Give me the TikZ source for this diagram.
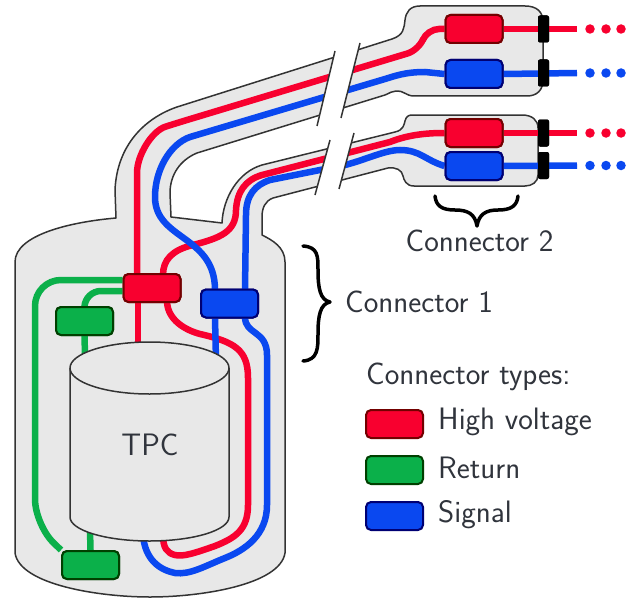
\documentclass[tikz,border=0pt]{standalone}
\usetikzlibrary{calc}
\definecolor{cred}{HTML}{F8002F}
\definecolor{cgreen}{HTML}{0BB04A}
\definecolor{cblue}{HTML}{0A48F0}
\definecolor{cfill}{HTML}{E8E8E8}
\definecolor{cline}{HTML}{333333}
\definecolor{ctext}{HTML}{30343C}
\tikzset{
  shell/.style={draw=cline,line width=1.5pt,fill=cfill,line join=round},
  edge/.style={draw=cline,line width=1.5pt},
  wire/.style={line width=6.5pt,line cap=butt,rounded corners=#1},
  wire/.default=14pt,
  rw/.style={wire=#1,draw=cred},
  rw/.default=14pt,
  bw/.style={wire=#1,draw=cblue},
  bw/.default=14pt,
  gw/.style={wire=#1,draw=cgreen},
  gw/.default=14pt,
  box/.style={rounded corners=5pt,line width=2pt,minimum width=57pt,minimum height=28pt,inner sep=0pt},
  redbox/.style={box,fill=cred,draw=red!45!black},
  bluebox/.style={box,fill=cblue,draw=blue!45!black},
  greenbox/.style={box,fill=cgreen,draw=green!25!black},
  plug/.style={fill=black,rounded corners=2pt,minimum width=11pt,minimum height=27pt,inner sep=0pt},
  dotr/.style={circle,fill=cred,minimum size=9.5pt,inner sep=0pt},
  dotb/.style={circle,fill=cblue,minimum size=9.5pt,inner sep=0pt},
  lbl/.style={font=\fontsize{31}{36}\selectfont\sffamily,text=ctext,inner sep=0pt},
  lblw/.style={lbl,anchor=west},
  curly/.style={draw=black,line width=3.5pt,line cap=round,line join=round},
}
\begin{document}
\begin{tikzpicture}[x=1pt,y=-1pt]
\useasboundingbox (0,0) rectangle (636,599);

% vessel and tubes
\path[shell] (15,553) -- (15,262)
  .. controls (15,235) and (70,222) .. (116,218)
  -- (115,190)
  .. controls (117,145) and (145,118) .. (177,107)
  -- (392,39)
  .. controls (404,35) and (404,28) .. (405,20)
  .. controls (406,12) and (410,6) .. (420,6)
  -- (525,6)
  .. controls (537,6) and (543,12) .. (543,22)
  -- (543,80)
  .. controls (543,90) and (537,96) .. (527,96)
  -- (414,96)
  .. controls (406,96) and (403,90) .. (396,91)
  .. controls (392,91) and (390,93) .. (385,95)
  -- (197,153)
  .. controls (180,160) and (170,175) .. (170,193)
  -- (171,217)
  -- (222,223)
  .. controls (223,198) and (238,172) .. (262,165)
  -- (395,132)
  .. controls (404,130) and (404,124) .. (405,121)
  .. controls (406,117) and (408,115) .. (412,115)
  -- (522,115)
  .. controls (532,115) and (538,120) .. (538,128)
  -- (538,175)
  .. controls (538,182) and (532,186) .. (525,186)
  -- (414,186)
  .. controls (406,186) and (404,180) .. (403,176)
  .. controls (402,170) and (396,167) .. (388,168)
  -- (273,198)
  .. controls (265,201) and (262,208) .. (262,217)
  -- (262,235)
  .. controls (272,240) and (285,247) .. (285,262)
  -- (285,553)
  .. controls (280,585) and (200,597) .. (150,597)
  .. controls (100,597) and (20,585) .. (15,553) -- cycle;

% connector bodies
\node[redbox]   (chv)  at (152,288) {};
\node[bluebox]  (csig) at (229.5,303.5) {};
\node[greenbox] (gup)  at (84.5,321) {};
\node[greenbox] (glow) at (90.5,565) {};
\node[redbox]   (h1r) at (474,29) {};
\node[bluebox]  (h1b) at (474,74) {};
\node[redbox]   (h2r) at (474,133) {};
\node[bluebox]  (h2b) at (474,166) {};
\coordinate (cylA) at (138,350);
\coordinate (cylB) at (216,360);
\coordinate (cylG) at (85,355);
\coordinate (cylH) at (90,530);
\coordinate (cylR) at (163,535);
\coordinate (cylS) at (143,535);

% green wires
\draw[gw=26pt] (chv.west |- 0,280) -- (35,280) -- (35,525) -- (glow.north west);
\draw[gw=16pt] (chv.west |- 0,291) -- (85,291) -- (gup.north);
\draw[gw] (gup.south) -- (cylG);
\draw[gw] (glow.north) -- (cylH);

% red wires
\draw[rw=12pt] (h1r.west) -- (427,29) -- (419,50) -- (177,123) .. controls (152,131) and (137,155) .. (137,185) -- (chv.north -| 137,0);
\draw[rw] (chv.south -| 138,0) -- (cylA);
\draw[rw=0pt] (h2r.west) .. controls (430,133) and (410,134) .. (390,142) -- (262,175)
   .. controls (245,180) and (237,192) .. (236,210)
   .. controls (236,232) and (220,238) .. (193,245)
   .. controls (172,250) and (163,260) .. (163,275);
\draw[rw=0pt] (167,302) .. controls (168,320) and (185,330) .. (200,334)
   .. controls (235,342) and (248,350) .. (248,378)
   -- (248,505)
   .. controls (248,530) and (235,538) .. (215,546)
   .. controls (195,553) and (183,557) .. (175,555)
   .. controls (167,553) and (163,548) .. (cylR);

% blue wires
\draw[bw=0pt] (h1b.west) -- (425,72) .. controls (405,72) and (395,76) .. (385,79)
   -- (190,137)
   .. controls (170,144) and (155,170) .. (155,197)
   .. controls (155,240) and (215,235) .. (215,290);
\draw[bw] (csig.south -| 215,0) -- (cylB);
\draw[bw=0pt] (h2b.west) .. controls (425,160) and (420,150) .. (400,150)
   .. controls (385,150) and (365,160) .. (345,165)
   -- (270,180)
   .. controls (255,185) and (246,195) .. (246,215)
   -- (245,290);
\draw[bw=0pt] (245,317) .. controls (245,335) and (267,330) .. (267,355)
   -- (267,505)
   .. controls (267,535) and (245,550) .. (225,558)
   .. controls (205,566) and (190,575) .. (175,573)
   .. controls (160,570) and (145,560) .. (cylS);

% wires on the right
\node[plug] (p1) at (543.5,29) {};
\node[plug] (p2) at (543.5,73) {};
\node[plug] (p3) at (543.5,133) {};
\node[plug] (p4) at (543.5,165.5) {};
\coordinate (e1) at (577,29);
\coordinate (e2) at (577,73);
\coordinate (e3) at (577,133);
\coordinate (e4) at (577,165.5);
\draw[rw] (h1r.east) -- (e1);
\draw[bw] (h1b.east) -- (e2);
\draw[rw] (h2r.east) -- (e3);
\draw[bw] (h2b.east) -- (e4);
\node[plug] at (p1) {};
\node[plug] at (p2) {};
\node[plug] at (p3) {};
\node[plug] at (p4) {};
\foreach \x/\n in {590/a,606/b,621/c}{
  \node[dotr] (dr1\n) at (\x,29) {};
  \node[dotb] (db1\n) at (\x,73) {};
  \node[dotr] (dr2\n) at (\x,133) {};
  \node[dotb] (db2\n) at (\x,165.5) {};
}

% redraw bodies on top of the wires
\node[redbox]   at (chv) {};
\node[bluebox]  at (csig) {};
\node[greenbox] at (gup) {};
\node[greenbox] at (glow) {};
\node[redbox]   at (h1r) {};
\node[bluebox]  at (h1b) {};
\node[redbox]   at (h2r) {};
\node[bluebox]  at (h2b) {};

% breaks
\fill[white] (335,51) -- (360,43) -- (341,118) -- (317,126) -- cycle;
\fill[white] (330,140) -- (354,133) -- (339,189) -- (315,195) -- cycle;
\draw[edge] (335,51) -- (317,126);
\draw[edge] (360,43) -- (341,118);
\draw[edge] (330,140) -- (315,195);
\draw[edge] (354,133) -- (339,189);

% TPC
\path[shell] (70,368) -- (70,517)
  arc[start angle=180,end angle=0,x radius=79.5,y radius=24]
  -- (229,368)
  arc[start angle=0,end angle=-180,x radius=79.5,y radius=26] -- cycle;
\draw[edge] (70,368) arc[start angle=180,end angle=0,x radius=79.5,y radius=26];
\node[lbl] (tpc) at (150,445) {TPC};

% braces
\draw[curly] (303,246) .. controls (318,247) and (318,256) .. (318,270)
  .. controls (318,288) and (320,300) .. (330,302)
  .. controls (320,304) and (318,316) .. (318,334)
  .. controls (318,348) and (318,360) .. (303,361);
\draw[curly] (435,196) .. controls (436,206) and (442,210) .. (455,210)
  .. controls (468,210) and (475,214) .. (477,226)
  .. controls (479,214) and (486,210) .. (498,210)
  .. controls (511,210) and (517,206) .. (518,196);

% labels
\node[lbl] (c2) at (479.5,241) {Connector 2};
\node[lblw] (c1) at (345,302) {Connector 1};
\node[lblw] (ct) at (366,377) {Connector types:};
\node[redbox]   (lr) at (394.5,424) {};
\node[greenbox] (lg) at (394.5,470) {};
\node[bluebox]  (lb) at (394.5,516) {};
\node[lblw] (t1) at (438,422) {High voltage};
\node[lblw] (t2) at (438,468) {Return};
\node[lblw] (t3) at (438,515) {Signal};
\end{tikzpicture}
\end{document}
